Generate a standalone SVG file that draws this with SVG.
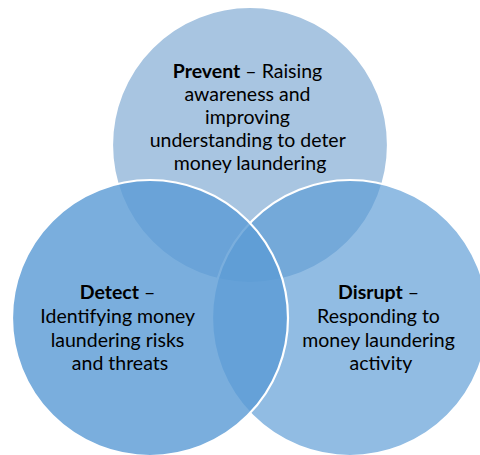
<svg xmlns="http://www.w3.org/2000/svg" width="480" height="455" viewBox="0 0 480 455">
  <style>
    .c { stroke: #FFFFFF; stroke-width: 2.2; }
    .t { font-family: "Lato", "Liberation Sans", sans-serif; font-size: 19.5px; fill: #000000; text-anchor: middle; }
    .b { font-weight: bold; }
  </style>
  <rect width="480" height="455" fill="#FFFFFF"/>
  <g id="node-prevent">
    <circle class="c" cx="250" cy="145" r="138" fill="#A8C5E1"/>
    <text class="t">
      <tspan x="250" y="78"><tspan class="b">Prevent</tspan> – Raising</tspan>
      <tspan x="250" y="101">awareness and</tspan>
      <tspan x="250" y="124">improving</tspan>
      <tspan x="250" y="147">understanding to deter</tspan>
      <tspan x="250" y="170">money laundering</tspan>
    </text>
  </g>
  <g id="node-disrupt">
    <circle class="c" cx="350" cy="318" r="138" fill="#5B9BD5" fill-opacity="0.67"/>
    <text class="t">
      <tspan x="381" y="299"><tspan class="b">Disrupt</tspan> –</tspan>
      <tspan x="381" y="323">Responding to</tspan>
      <tspan x="381" y="347">money laundering</tspan>
      <tspan x="381" y="370">activity</tspan>
    </text>
  </g>
  <g id="node-detect">
    <circle class="c" cx="150" cy="318" r="138" fill="#5B9BD5" fill-opacity="0.81"/>
    <text class="t">
      <tspan x="120" y="299"><tspan class="b">Detect</tspan> –</tspan>
      <tspan x="120" y="323">Identifying money</tspan>
      <tspan x="120" y="347">laundering risks</tspan>
      <tspan x="120" y="370">and threats</tspan>
    </text>
  </g>
</svg>
